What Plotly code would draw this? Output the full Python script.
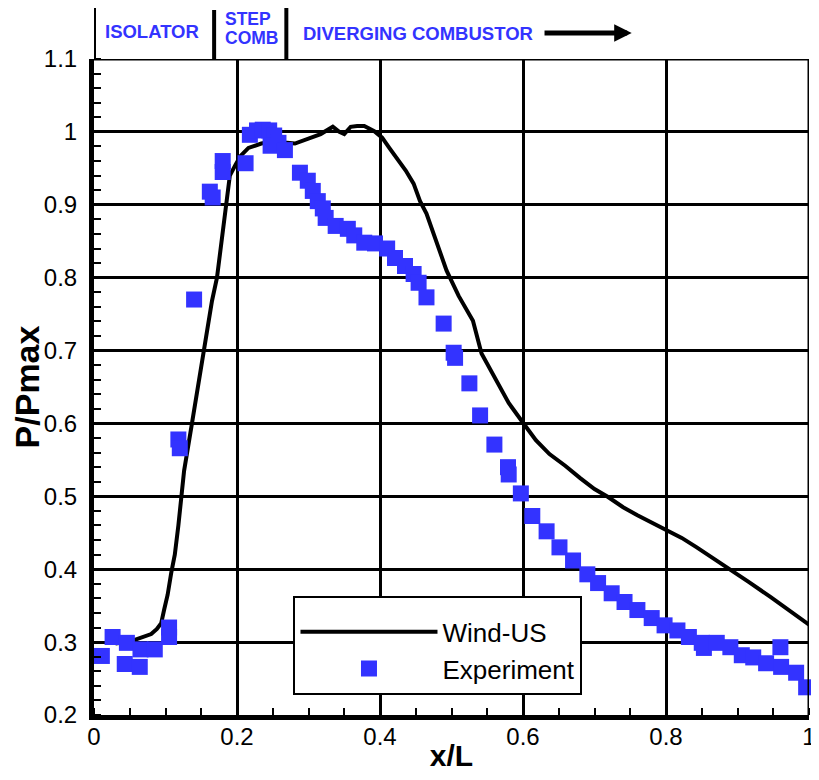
import plotly.graph_objects as go

# ---------------- data ----------------
wind_x = [0.03, 0.045, 0.057, 0.07, 0.08, 0.088, 0.094, 0.098, 0.103, 0.108, 0.113, 0.118,
          0.122, 0.126, 0.137, 0.154, 0.165, 0.172, 0.179, 0.184, 0.19, 0.198, 0.205, 0.216,
          0.234, 0.258, 0.27, 0.281, 0.299, 0.317, 0.334, 0.343, 0.35, 0.359, 0.368, 0.378,
          0.392, 0.403, 0.413, 0.424, 0.436, 0.447, 0.456, 0.465, 0.479, 0.493, 0.51, 0.53,
          0.542, 0.562, 0.58, 0.6, 0.618, 0.637, 0.659, 0.68, 0.7, 0.719, 0.74, 0.76, 0.78,
          0.802, 0.822, 0.843, 0.865, 0.89, 0.915, 0.946, 0.97, 1.0]
wind_y = [0.298, 0.3, 0.303, 0.307, 0.311, 0.318, 0.326, 0.344, 0.365, 0.395, 0.42, 0.46,
          0.5, 0.535, 0.6, 0.7, 0.768, 0.8, 0.855, 0.9, 0.94, 0.955, 0.967, 0.978,
          0.984, 0.988, 0.985, 0.984, 0.99, 0.997, 1.007, 1.0, 0.997, 1.007, 1.008, 1.008,
          1.001, 0.992, 0.978, 0.964, 0.947, 0.929, 0.905, 0.888, 0.847, 0.81, 0.775, 0.741,
          0.696, 0.659, 0.628, 0.601, 0.577, 0.558, 0.542, 0.525, 0.51, 0.499, 0.485, 0.474,
          0.464, 0.453, 0.443, 0.43, 0.416, 0.4, 0.383, 0.362, 0.345, 0.324]

exp_x = [0.011, 0.026, 0.046, 0.043, 0.064, 0.065, 0.085, 0.105, 0.105, 0.118, 0.12, 0.14,
         0.162, 0.166, 0.18, 0.18, 0.212, 0.218, 0.228, 0.236, 0.245, 0.252, 0.247, 0.258,
         0.267, 0.288, 0.299, 0.306, 0.313, 0.32, 0.324, 0.338, 0.355, 0.364, 0.378, 0.393,
         0.41, 0.421, 0.435, 0.447, 0.454, 0.465, 0.489, 0.503, 0.505, 0.525, 0.54, 0.56,
         0.579, 0.58, 0.597, 0.613, 0.633, 0.651, 0.67, 0.69, 0.705, 0.724, 0.742, 0.76,
         0.78, 0.798, 0.816, 0.832, 0.85, 0.853, 0.871, 0.89, 0.906, 0.922, 0.94, 0.96,
         0.961, 0.982, 0.996]
exp_y = [0.281, 0.307, 0.299, 0.27, 0.266, 0.29, 0.29, 0.32, 0.307, 0.578, 0.566, 0.77,
         0.918, 0.91, 0.96, 0.945, 0.957, 0.996, 1.002, 1.003, 1.002, 0.995, 0.981, 0.985,
         0.975, 0.944, 0.933, 0.919, 0.905, 0.895, 0.882, 0.871, 0.867, 0.858, 0.848, 0.847,
         0.84, 0.827, 0.816, 0.805, 0.793, 0.773, 0.737, 0.697, 0.69, 0.655, 0.611, 0.571,
         0.54, 0.53, 0.504, 0.473, 0.452, 0.43, 0.412, 0.393, 0.381, 0.367, 0.355, 0.344,
         0.333, 0.323, 0.316, 0.307, 0.299, 0.292, 0.299, 0.293, 0.282, 0.279, 0.271, 0.293,
         0.266, 0.258, 0.238]

x_ticks = [0, 0.2, 0.4, 0.6, 0.8, 1]
x_tick_labels = ["0", "0.2", "0.4", "0.6", "0.8", "1"]
y_ticks = [0.2, 0.3, 0.4, 0.5, 0.6, 0.7, 0.8, 0.9, 1.0, 1.1]
y_tick_labels = ["0.2", "0.3", "0.4", "0.5", "0.6", "0.7", "0.8", "0.9", "1", "1.1"]

# section labels along the top (x in data units)
section_bounds = [0.0, 0.168, 0.269]
section_names = ["ISOLATOR", "STEP", "COMB", "DIVERGING COMBUSTOR"]

FONT = "Liberation Sans, Arial, sans-serif"
BLUE = "#3333ff"

fig = go.Figure()
fig.add_trace(go.Scatter(
    x=wind_x, y=wind_y, mode="lines", name="Wind-US", legendgroup="a",
    line=dict(color="black", width=4)))
fig.add_trace(go.Scatter(
    x=exp_x, y=exp_y, mode="markers", name="Experiment", legendgroup="b",
    marker=dict(symbol="square", size=16, color=BLUE, line=dict(width=0)),
    cliponaxis=False))

# paper-y helper from pixel row of the reference (plot area spans rows 59..715)
def py(row):
    return (715 - row) / 656.0

shapes = []
for xb, top in zip(section_bounds, [7, 10, 8]):
    shapes.append(dict(type="line", xref="x", yref="paper", x0=xb, x1=xb,
                       y0=1.0, y1=py(top), line=dict(color="black", width=4)))
# top and right frame lines (grid-weight)
shapes.append(dict(type="line", xref="paper", yref="y", x0=0, x1=1, y0=1.1, y1=1.1,
                   line=dict(color="black", width=3)))
shapes.append(dict(type="line", xref="x", yref="paper", x0=1, x1=1, y0=0, y1=1,
                   line=dict(color="black", width=3)))

annotations = [
    dict(text="<b>" + section_names[0] + "</b>", x=0.012, y=py(32), size=18.5),
    dict(text="<b>" + section_names[1] + "</b>", x=0.18, y=py(19), size=17.5),
    dict(text="<b>" + section_names[2] + "</b>", x=0.18, y=py(38), size=17.5),
    dict(text="<b>" + section_names[3] + "</b>", x=0.29, y=py(33), size=18.5),
]
for a in annotations:
    s = a.pop("size")
    a.update(xref="x", yref="paper", xanchor="left", yanchor="middle",
             showarrow=False, font=dict(family=FONT, size=s, color=BLUE))
annotations.append(dict(
    text="", x=0.752, y=py(33), ax=0.628, ay=0, xref="x", yref="paper",
    axref="x", ayref="pixel", showarrow=True, arrowhead=2, arrowsize=0.7,
    arrowwidth=5, arrowcolor="black", standoff=0))

# the page body adds an 8px margin on every side; keep the figure small enough
# that the page does not overflow the 819x780 window
fig.update_layout(
    width=803, height=764,
    margin=dict(l=86, r=2, t=51, b=57),
    paper_bgcolor="white", plot_bgcolor="white",
    font=dict(family=FONT, color="black", size=24),
    shapes=shapes, annotations=annotations,
    showlegend=True,
    legend=dict(x=0.279, y=py(596), xanchor="left", yanchor="top",
                bordercolor="black", borderwidth=2, bgcolor="white",
                font=dict(family=FONT, size=26, color="black"),
                title=dict(text=" ", font=dict(size=8)),
                itemwidth=137, tracegroupgap=0),
    xaxis=dict(range=[0, 1], tickmode="array", tickvals=x_ticks, ticktext=x_tick_labels,
               showgrid=True, gridcolor="black", gridwidth=3, zeroline=False,
               showline=True, linecolor="black", linewidth=5, ticks="",
               ticklabelstandoff=-4, ticklabeloverflow="allow", automargin=False,
               minor=dict(tickmode="linear", tick0=0, dtick=0.05, ticks="inside",
                          ticklen=7, tickwidth=2, tickcolor="black", showgrid=False),
               title=dict(text="<b>x/L</b>", font=dict(size=30), standoff=10),
               tickfont=dict(size=24)),
    yaxis=dict(range=[0.2, 1.1], tickmode="array", tickvals=y_ticks, ticktext=y_tick_labels,
               showgrid=True, gridcolor="black", gridwidth=3, zeroline=False,
               showline=True, linecolor="black", linewidth=5, ticks="",
               ticklabelstandoff=7, automargin=False,
               minor=dict(tickmode="linear", tick0=0.2, dtick=0.02, ticks="inside",
                          ticklen=7, tickwidth=2, tickcolor="black", showgrid=False),
               title=dict(text="<b>P/Pmax</b>", font=dict(size=34), standoff=7),
               tickfont=dict(size=24)),
)

fig.write_html("out.html")
